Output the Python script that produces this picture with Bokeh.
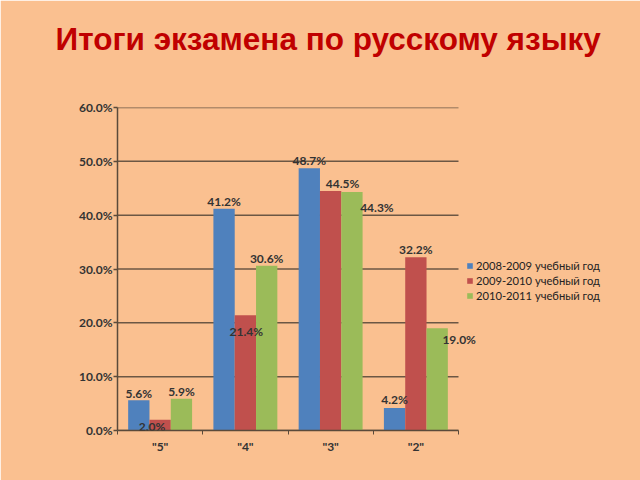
from bokeh.plotting import figure
from bokeh.models import (ColumnDataSource, FixedTicker, LabelSet, Legend, LegendItem,
                          PrintfTickFormatter, Range1d, Title)
from bokeh.core.properties import value
from bokeh.embed import file_html
from bokeh.resources import INLINE

categories = ['"5"', '"4"', '"3"', '"2"']
series_names = ["2008-2009 учебный год", "2009-2010 учебный год", "2010-2011 учебный год"]
values_2008_2009 = [5.6, 41.2, 48.7, 4.2]
values_2009_2010 = [2.0, 21.4, 44.5, 32.2]
values_2010_2011 = [5.9, 30.6, 44.3, 19.0]
y_ticks = [0, 10, 20, 30, 40, 50, 60]
title_text = "Итоги экзамена по русскому языку"

colors = ["#4F81BD", "#C0504D", "#9BBB59"]
# label offsets (screen px) per series, per category
label_dx = [[0, 0, 0, 0], [-8, 1, 12, 0], [0, 0, 25, 22]]
label_dy = [[7, 7, 8, 8], [-7, -16, 7, 8], [7, 7, -15, -11]]

BG = "#FAC090"
W, H = 640, 480
left, right, top, bottom = 117, 10, 107, 50
ncat = len(categories)
cat_px = 341 / ncat
frame_w = W - left - right
x_end = frame_w / cat_px

p = figure(width=W, height=H, output_backend="svg", toolbar_location=None,
           x_range=Range1d(0, x_end), y_range=Range1d(0, 60),
           min_border_left=left, min_border_right=right, min_border_top=top,
           min_border_bottom=bottom)
p.background_fill_color = BG
p.border_fill_color = BG
p.outline_line_color = BG
p.outline_line_width = 2
p.grid.grid_line_color = None

# horizontal gridlines limited to the category span
p.segment(x0=[0] * len(y_ticks), x1=[ncat] * len(y_ticks), y0=y_ticks, y1=y_ticks,
          line_color="#6B5744", line_width=1.5)

all_vals = [values_2008_2009, values_2009_2010, values_2010_2011]
items = []
for j, vals in enumerate(all_vals):
    xs = [i + 0.5 + (j - 1) * 0.25 for i in range(ncat)]
    src = ColumnDataSource(dict(x=xs, top=vals,
                                lbl=["%.1f%%" % v for v in vals],
                                dx=label_dx[j], dy=label_dy[j]))
    r = p.vbar(x="x", top="top", width=0.25, source=src, fill_color=colors[j],
               line_color=None)
    items.append(LegendItem(label=series_names[j], renderers=[r]))
    ls = LabelSet(x="x", y="top", text="lbl", source=src, x_offset="dx", y_offset="dy",
                  text_align="center", text_baseline="middle", text_font=value("Lato"),
                  text_font_style="bold", text_font_size="12px", text_color="#333333")
    p.add_layout(ls)

# axes
p.yaxis.ticker = FixedTicker(ticks=y_ticks)
p.yaxis.formatter = PrintfTickFormatter(format="%.1f%%")
p.yaxis.axis_line_color = "#5A4A3A"
p.yaxis.axis_line_width = 1.5
p.yaxis.major_tick_line_color = "#5A4A3A"
p.yaxis.major_tick_line_width = 1.5
p.yaxis.major_tick_in = 0
p.yaxis.major_tick_out = 4
p.yaxis.minor_tick_line_color = None
p.yaxis.major_label_text_font = "Lato"
p.yaxis.major_label_text_font_style = "bold"
p.yaxis.major_label_text_font_size = "12px"
p.yaxis.major_label_text_color = "#333333"
p.yaxis.major_label_standoff = 1

p.xaxis.bounds = (0, ncat)
p.xaxis.ticker = FixedTicker(ticks=[i + 0.5 for i in range(ncat)],
                             minor_ticks=list(range(ncat + 1)))
p.xaxis.major_label_overrides = {i + 0.5: c for i, c in enumerate(categories)}
p.xaxis.axis_line_color = "#5A4A3A"
p.xaxis.axis_line_width = 1.5
p.xaxis.major_tick_line_color = None
p.xaxis.major_tick_in = 0
p.xaxis.major_tick_out = 0
p.xaxis.minor_tick_line_color = "#5A4A3A"
p.xaxis.minor_tick_in = 0
p.xaxis.minor_tick_out = 4
p.xaxis.major_label_text_font = "Lato"
p.xaxis.major_label_text_font_style = "bold"
p.xaxis.major_label_text_font_size = "12px"
p.xaxis.major_label_text_color = "#333333"
p.xaxis.major_label_standoff = 4

legend = Legend(items=items, location=(349, 128), label_text_font="Lato",
                label_text_font_size="11.2px", label_text_color="#222222",
                glyph_width=7, glyph_height=7, label_height=14, spacing=1,
                padding=0, margin=0, background_fill_alpha=0, border_line_color=None,
                label_standoff=3)
p.add_layout(legend)

# spacer (closest to the frame), then the main title above it
p.add_layout(Title(text=" ", standoff=48, text_font_size="1px", text_color=BG), "above")
p.add_layout(Title(text=title_text, align="left", offset=-62, standoff=0,
                   vertical_align="bottom",
                   text_font="Liberation Sans", text_font_style="bold",
                   text_font_size="31.5px", text_color="#C00000"), "above")

open("out.html", "w").write(file_html(p, INLINE))
